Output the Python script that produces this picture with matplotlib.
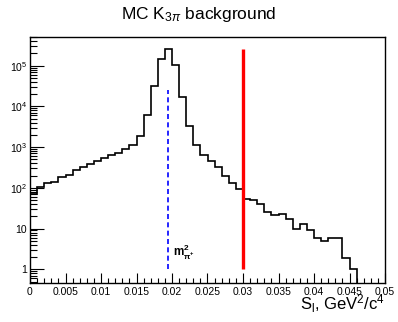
import numpy as np
import matplotlib
matplotlib.use('Agg')
import matplotlib.pyplot as plt
from matplotlib.ticker import MultipleLocator, LogLocator, FuncFormatter, NullFormatter

plt.rcParams['font.family'] = ['Liberation Sans', 'DejaVu Sans']
plt.rcParams['mathtext.fontset'] = 'custom'
plt.rcParams['mathtext.rm'] = 'Liberation Sans'
plt.rcParams['mathtext.it'] = 'Liberation Sans:italic'
plt.rcParams['mathtext.bf'] = 'Liberation Sans:bold'

# histogram: 50 bins of 0.001 GeV^2/c^4
bin_edges = np.linspace(0.0, 0.05, 51)
counts = np.array([
    72, 105, 128, 140, 180, 205, 282, 325, 395, 460,
    555, 630, 720, 880, 1100, 1900, 6100, 31500, 145000, 254000,
    102000, 17000, 3300, 1150, 630, 460, 325, 190, 128, 92,
    52, 50, 39, 26, 22, 23, 17.6, 9.6, 13.3, 9.4,
    5.9, 4.9, 5.9, 5.9, 1.9, 1.0, 0, 0, 0, 0,
])
m_pi2 = 0.13957 ** 2      # charged pion mass squared
m_pi2_top = 2.5e4
cut = 0.030

fig = plt.figure(figsize=(3.98, 3.22), dpi=100)
ax = fig.add_axes([30 / 398, 1 - 283 / 322, 355 / 398, 246 / 322])

# empty bins pushed below the visible range so the line drops to the axis
plot_counts = np.where(counts > 0, counts, 1e-3)
ax.stairs(plot_counts, bin_edges, color='black', lw=1.2)

ax.vlines(m_pi2, 1, m_pi2_top, color='blue', lw=1.2, linestyles=(0, (3, 2)))
ax.vlines(cut, 1, counts.max(), color='red', lw=2.4)

ax.text(m_pi2 + 0.0006, 2.6, r'$\mathbf{m}^{\mathbf{2}}_{\mathbf{\pi^{+}}}$',
        fontsize=8.5, ha='left', va='center')

ax.set_yscale('log')
ax.set_xlim(0, 0.05)
ax.set_ylim(0.46, 5.07e5)

ax.xaxis.set_major_locator(MultipleLocator(0.005))
ax.xaxis.set_minor_locator(MultipleLocator(0.001))
ax.xaxis.set_major_formatter(FuncFormatter(lambda v, p: '0' if v == 0 else ('%.3f' % v).rstrip('0')))
ax.yaxis.set_major_locator(LogLocator(base=10, numticks=10))
ax.yaxis.set_minor_locator(LogLocator(base=10, subs=np.arange(2, 10), numticks=20))


def ylab(v, p):
    n = int(round(np.log10(v)))
    if n == 0:
        return '1'
    if n == 1:
        return '10'
    return r'10$^{%d}$' % n


ax.yaxis.set_major_formatter(FuncFormatter(ylab))
ax.yaxis.set_minor_formatter(NullFormatter())

ax.tick_params(which='both', direction='in', top=False, right=False, labelsize=7.5, width=0.8)
ax.tick_params(axis='x', which='major', length=7, pad=3)
ax.tick_params(axis='x', which='minor', length=3.5)
ax.tick_params(axis='y', which='major', length=10, pad=2)
ax.tick_params(axis='y', which='minor', length=5)
for s in ax.spines.values():
    s.set_linewidth(1.0)

fig.text(0.5, 1 - 15 / 322, r'MC K$_{3\pi}$ background', ha='center', va='center', fontsize=12.5)
fig.text(385 / 398, 1 - 304 / 322, r'S$_{\rm l}$, GeV$^{2}$/c$^{4}$', ha='right', va='center', fontsize=12)

fig.savefig('out.png', dpi=100)
